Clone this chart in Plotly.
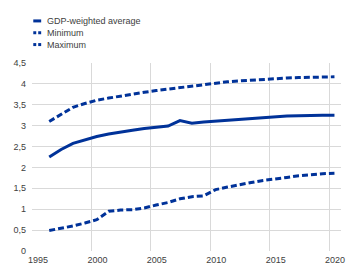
import plotly.graph_objects as go

years = list(range(1996, 2021))
avg = [2.25, 2.43, 2.575, 2.66, 2.74, 2.80, 2.85, 2.89, 2.93, 2.96, 2.99, 3.12, 3.06, 3.09,
       3.11, 3.13, 3.16, 3.18, 3.20, 3.21, 3.23, 3.24, 3.25, 3.25, 3.25]
vmin = [0.49, 0.54, 0.60, 0.67, 0.75, 0.95, 0.98, 0.99, 1.03, 1.10, 1.16, 1.25, 1.30, 1.32,
        1.47, 1.53, 1.59, 1.64, 1.69, 1.72, 1.76, 1.80, 1.83, 1.85, 1.86]
vmax = [3.10, 3.28, 3.44, 3.53, 3.61, 3.66, 3.71, 3.76, 3.80, 3.84, 3.875, 3.92, 3.95, 3.98,
        4.02, 4.05, 4.07, 4.09, 4.11, 4.13, 4.14, 4.15, 4.16, 4.17, 4.17]
series_names = ["GDP-weighted average", "Minimum", "Maximum"]
x_ticks = [1995, 2000, 2005, 2010, 2015, 2020]
y_ticks = [0, 0.5, 1, 1.5, 2, 2.5, 3, 3.5, 4, 4.5]

BLUE = "#003299"
GRID = "#d9d9d9"
TXT = "#404040"
FONT = "Liberation Sans, Arial, sans-serif"
FS = 9

# plot at mid-year positions
xpos = [y + 0.45 for y in years]

fig = go.Figure()
fig.add_trace(go.Scatter(x=xpos, y=avg, mode="lines", name=series_names[0],
                         line=dict(color=BLUE, width=3), showlegend=False))
fig.add_trace(go.Scatter(x=xpos, y=vmin, mode="lines", name=series_names[1],
                         line=dict(color=BLUE, width=3, dash="6px,3px"), showlegend=False))
fig.add_trace(go.Scatter(x=xpos, y=vmax, mode="lines", name=series_names[2],
                         line=dict(color=BLUE, width=3, dash="6px,3px"), showlegend=False))

W, H = 349, 269
PL, PR, PT, PB = 31.7, 345, 62.7, 253.5  # plot area in page pixels


def px(x):
    return (x - PL) / (PR - PL)


def py(y):
    return (PB - y) / (PB - PT)


shapes = []
annotations = []
rows = [20, 32, 44]
for i, (name, ry) in enumerate(zip(series_names, rows)):
    if i == 0:
        shapes.append(dict(type="line", xref="paper", yref="paper",
                           x0=px(33), x1=px(41), y0=py(ry), y1=py(ry),
                           line=dict(color=BLUE, width=3)))
    else:
        for sx in (33, 38):
            shapes.append(dict(type="line", xref="paper", yref="paper",
                               x0=px(sx), x1=px(sx + 3), y0=py(ry), y1=py(ry),
                               line=dict(color=BLUE, width=3)))
    annotations.append(dict(text=name, xref="paper", yref="paper",
                            x=px(45), y=py(ry),
                            xanchor="left", yanchor="middle", showarrow=False,
                            font=dict(family=FONT, size=FS, color=TXT)))

fig.update_layout(
    width=W, height=H,
    margin=dict(l=PL, r=W - PR, t=PT, b=H - PB),
    paper_bgcolor="white", plot_bgcolor="white",
    separators=",.",
    font=dict(family=FONT, size=FS, color=TXT),
    shapes=shapes, annotations=annotations,
    xaxis=dict(range=[1995, 2021], tickvals=x_ticks, ticktext=[str(t) for t in x_ticks],
               showgrid=True, gridcolor=GRID, gridwidth=1, zeroline=False,
               showline=False, ticks="", ticklabelshift=6, ticklabeloverflow="allow",
               ticklabelstandoff=2,
               tickfont=dict(family=FONT, size=FS, color=TXT)),
    yaxis=dict(range=[0, 4.5], tickvals=y_ticks,
               showgrid=True, gridcolor=GRID, gridwidth=1, zeroline=False,
               showline=False, ticks="", ticklabelstandoff=5,
               tickfont=dict(family=FONT, size=FS, color=TXT)),
)

fig.write_html("out.html",
               config={"displayModeBar": False},
               post_script="document.body.style.margin='0';document.body.style.overflow='hidden';")
